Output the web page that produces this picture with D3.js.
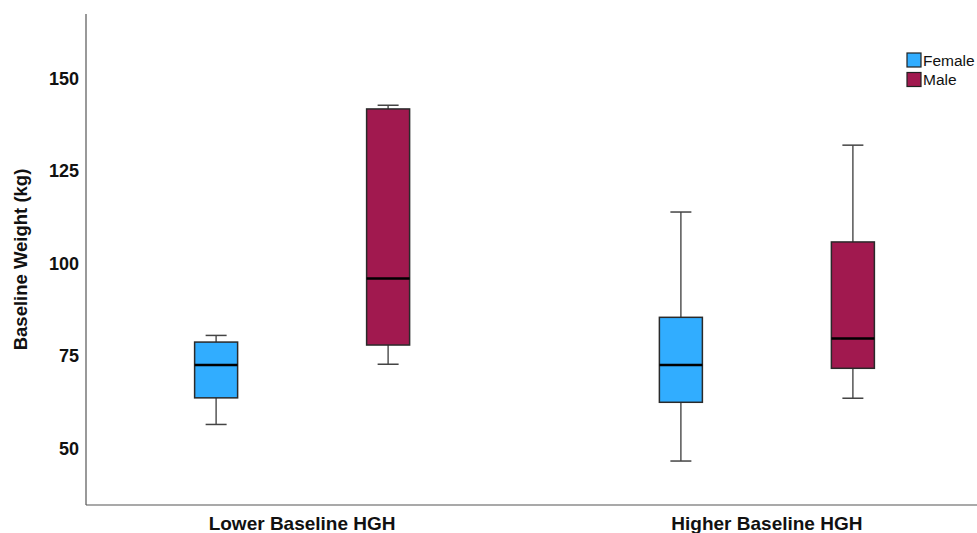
<!DOCTYPE html>
<html>
<head>
<meta charset="utf-8">
<script src="https://cdn.jsdelivr.net/npm/d3@7"></script>
<style>
  body { margin: 0; background: #fff; }
  svg text { font-family: "Liberation Sans", Arial, sans-serif; }
</style>
</head>
<body>
<svg id="chart" width="977" height="533"></svg>
<script>
// ── Data ────────────────────────────────────────────────────────────────────
const groups = ["Lower Baseline HGH", "Higher Baseline HGH"];
const sexes  = ["Female", "Male"];
// [whisker low, Q1, median, Q3, whisker high]
const femaleStats = [[56.4, 63.6, 72.5, 78.7, 80.5], [46.5, 62.4, 72.5, 85.4, 113.9]];
const maleStats   = [[72.7, 77.9, 95.9, 141.8, 142.8], [63.5, 71.6, 79.7, 105.8, 132.0]];
const yTicks = [50, 75, 100, 125, 150];

const COLOR = { Female: "#31adff", Male: "#a1194f" };

// ── Scales ──────────────────────────────────────────────────────────────────
const svg = d3.select("#chart");
const plotL = 86, plotR = 983, plotT = 14, plotB = 505;

const x = d3.scalePoint().domain(groups).range([plotL, plotR]).padding(0.465);
const xSub = d3.scalePoint().domain(sexes).range([-86, 86]);
const y = d3.scaleLinear().domain([34.6, 167.5]).range([plotB, plotT]);

const boxW = 43, capW = 21;

// ── Axes ────────────────────────────────────────────────────────────────────
svg.append("line")
  .attr("x1", plotL).attr("x2", plotL).attr("y1", plotT).attr("y2", plotB)
  .attr("stroke", "#555").attr("stroke-width", 1.2);
svg.append("line")
  .attr("x1", plotL).attr("x2", 977).attr("y1", plotB).attr("y2", plotB)
  .attr("stroke", "#555").attr("stroke-width", 1.2);

svg.selectAll(".ytick")
  .data(yTicks)
  .enter().append("text")
  .attr("class", "ytick")
  .attr("x", 79)
  .attr("y", d => y(d))
  .attr("dy", "0.36em")
  .attr("text-anchor", "end")
  .style("font-size", "18px")
  .style("font-weight", "bold")
  .attr("fill", "#111")
  .text(d => d);

svg.selectAll(".xlab")
  .data(groups)
  .enter().append("text")
  .attr("class", "xlab")
  .attr("x", d => x(d))
  .attr("y", 530)
  .attr("text-anchor", "middle")
  .style("font-size", "19px")
  .style("font-weight", "bold")
  .attr("fill", "#111")
  .text(d => d);

svg.append("text")
  .attr("transform", `translate(27,${(plotT + plotB) / 2}) rotate(-90)`)
  .attr("text-anchor", "middle")
  .style("font-size", "18.5px")
  .style("font-weight", "bold")
  .attr("fill", "#111")
  .text("Baseline Weight (kg)");

// ── Boxes ───────────────────────────────────────────────────────────────────
const boxes = [];
groups.forEach((g, i) => {
  boxes.push({ group: g, sex: "Female", s: femaleStats[i] });
  boxes.push({ group: g, sex: "Male",   s: maleStats[i] });
});

const b = svg.selectAll(".box")
  .data(boxes)
  .enter().append("g")
  .attr("class", "box")
  .attr("transform", d => `translate(${x(d.group) + xSub(d.sex)},0)`);

// whiskers
b.append("line")
  .attr("x1", 0).attr("x2", 0)
  .attr("y1", d => y(d.s[0])).attr("y2", d => y(d.s[1]))
  .attr("stroke", "#555").attr("stroke-width", 1.5);
b.append("line")
  .attr("x1", 0).attr("x2", 0)
  .attr("y1", d => y(d.s[3])).attr("y2", d => y(d.s[4]))
  .attr("stroke", "#555").attr("stroke-width", 1.5);
// caps
b.append("line")
  .attr("x1", -capW / 2).attr("x2", capW / 2)
  .attr("y1", d => y(d.s[0])).attr("y2", d => y(d.s[0]))
  .attr("stroke", "#444").attr("stroke-width", 1.5);
b.append("line")
  .attr("x1", -capW / 2).attr("x2", capW / 2)
  .attr("y1", d => y(d.s[4])).attr("y2", d => y(d.s[4]))
  .attr("stroke", "#444").attr("stroke-width", 1.5);
// box
b.append("rect")
  .attr("x", -boxW / 2)
  .attr("width", boxW)
  .attr("y", d => y(d.s[3]))
  .attr("height", d => y(d.s[1]) - y(d.s[3]))
  .attr("fill", d => COLOR[d.sex])
  .attr("stroke", "#2a2a2a").attr("stroke-width", 1.5);
// median
b.append("line")
  .attr("x1", -boxW / 2).attr("x2", boxW / 2)
  .attr("y1", d => y(d.s[2])).attr("y2", d => y(d.s[2]))
  .attr("stroke", "#000").attr("stroke-width", 2.5);

// ── Legend ──────────────────────────────────────────────────────────────────
const leg = svg.selectAll(".leg")
  .data(sexes)
  .enter().append("g")
  .attr("class", "leg")
  .attr("transform", (d, i) => `translate(907,${53 + i * 19.5})`);

leg.append("rect")
  .attr("width", 14).attr("height", 14)
  .attr("fill", d => COLOR[d])
  .attr("stroke", "#222").attr("stroke-width", 1.2);
leg.append("text")
  .attr("x", 16).attr("y", 7)
  .attr("dy", "0.36em")
  .style("font-size", "15.5px")
  .attr("fill", "#111")
  .text(d => d);
</script>
</body>
</html>
